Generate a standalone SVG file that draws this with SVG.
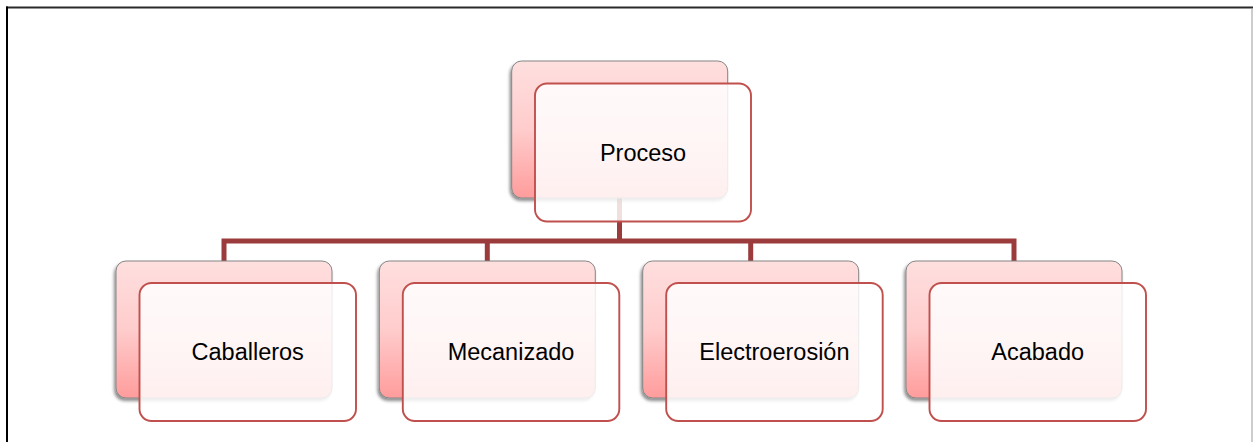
<svg xmlns="http://www.w3.org/2000/svg" width="1253" height="442" viewBox="0 0 1253 442">
  <style>
    .back { fill: url(#backFill); stroke: #858585; stroke-width: 1; filter: url(#shade); }
    .front { fill: #ffffff; fill-opacity: 0.84; stroke: #c0504d; stroke-width: 1.9; }
    .label { font-family: "Liberation Sans", Arial, sans-serif; font-size: 23.5px; fill: #000000; text-anchor: middle; }
    .link { fill: none; stroke: #9b3b3b; stroke-width: 5; stroke-linejoin: miter; stroke-linecap: butt; }
  </style>
  <defs>
    <linearGradient id="backFill" x1="0" y1="0" x2="0" y2="1">
      <stop offset="0" stop-color="#ffdfdf"/>
      <stop offset="0.5" stop-color="#ffcccc"/>
      <stop offset="1" stop-color="#ff9c9c"/>
    </linearGradient>
    <filter id="shade" x="-10%" y="-10%" width="120%" height="125%">
      <feDropShadow dx="-1.5" dy="2.5" stdDeviation="1.6" flood-color="#000000" flood-opacity="0.45"/>
    </filter>
  </defs>

  <rect x="0" y="0" width="1253" height="442" fill="#ffffff"/>

  <!-- page frame -->
  <g id="frame">
    <line x1="6" y1="7.5" x2="1253" y2="7.5" stroke="#2a2a2a" stroke-width="2"/>
    <line x1="7" y1="6.5" x2="7" y2="442" stroke="#000000" stroke-width="2"/>
    <line x1="1252" y1="8" x2="1252" y2="442" stroke="#9a9a9a" stroke-width="1"/>
  </g>

  <!-- hierarchy connectors -->
  <g id="connectors">
    <path class="link" d="M619.5 198 V241"/>
    <path class="link" d="M224 261 V241 H1014 V261"/>
    <path class="link" d="M487.3 241 V261"/>
    <path class="link" d="M750.7 241 V261"/>
  </g>

  <g id="node-proceso">
    <rect class="back" x="511.7" y="61" width="216" height="137" rx="10"/>
    <rect class="front" x="535" y="83.5" width="216" height="138" rx="12"/>
    <text class="label" x="643" y="161">Proceso</text>
  </g>

  <g id="node-caballeros">
    <rect class="back" x="116" y="261" width="216" height="137" rx="10"/>
    <rect class="front" x="139.5" y="283" width="216.5" height="138" rx="12"/>
    <text class="label" x="247.7" y="360">Caballeros</text>
  </g>

  <g id="node-mecanizado">
    <rect class="back" x="379.3" y="261" width="216" height="137" rx="10"/>
    <rect class="front" x="402.8" y="283" width="216.5" height="138" rx="12"/>
    <text class="label" x="511" y="360">Mecanizado</text>
  </g>

  <g id="node-electroerosion">
    <rect class="back" x="642.7" y="261" width="216" height="137" rx="10"/>
    <rect class="front" x="666.2" y="283" width="216.5" height="138" rx="12"/>
    <text class="label" x="774.4" y="360">Electroerosión</text>
  </g>

  <g id="node-acabado">
    <rect class="back" x="906" y="261" width="216" height="137" rx="10"/>
    <rect class="front" x="929.5" y="283" width="216.5" height="138" rx="12"/>
    <text class="label" x="1037.7" y="360">Acabado</text>
  </g>
</svg>
